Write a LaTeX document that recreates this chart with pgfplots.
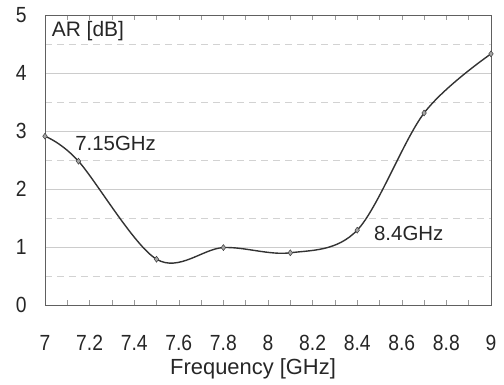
\documentclass[border=0pt]{standalone}
\usepackage{fontspec}
\setmainfont{Liberation Sans}
\newfontfamily\tickfont[FakeStretch=0.88]{Liberation Sans}
\usepackage{pgfplots}
\pgfplotsset{compat=1.18}
\begin{document}
\begin{tikzpicture}
\path[use as bounding box] (-45bp,-80bp) rectangle (459bp,305bp);
\begin{axis}[
  at={(0,0)}, anchor=south west,
  scale only axis, width=446bp, height=290bp,
  xmin=7, xmax=9, ymin=0, ymax=5,
  clip=false,
  /pgf/number format/assume math mode=true,
  axis line style={draw=gray!75!black, line width=0.8bp},
  xtick={7,7.2,...,9.01},
  xticklabels={7,7.2,7.4,7.6,7.8,8,8.2,8.4,8.6,8.8,9},
  minor x tick num=1,
  ytick={0,1,2,3,4,5},
  yticklabels={0,1,2,3,4,5},
  minor ytick={0.5,1.5,2.5,3.5,4.5},
  ymajorgrids, yminorgrids,
  major grid style={draw=gray!40, line width=0.6bp},
  minor grid style={draw=gray!35, dash pattern=on 7bp off 5bp, line width=0.6bp},
  tick align=inside,
  major tick length=5bp, minor tick length=5bp,
  xtick style={draw=gray!80, line width=0.6bp},
  ytick style={draw=none},
  minor y tick style={draw=none},
  xticklabel style={font=\tickfont\fontsize{22}{26}\selectfont, yshift=-27bp, text=black!85},
  yticklabel style={font=\tickfont\fontsize{22}{26}\selectfont, xshift=-15bp, text=black!85},
]
\addplot[draw=black!80, line width=1.4bp, smooth, tension=0.55,
  mark=diamond*, mark size=3bp, mark options={fill=gray!70, draw=gray!50!black, line width=0.5bp}]
  coordinates {(7.0,2.91) (7.15,2.48) (7.5,0.79) (7.8,0.99) (8.1,0.9) (8.4,1.29) (8.7,3.31) (9.0,4.33)};
\node[anchor=west, inner sep=0pt, font=\fontsize{21}{24}\selectfont, text=black!85] at (axis cs:7.03,4.73) {AR [dB]};
\node[anchor=west, inner sep=0pt, font=\fontsize{20.5}{24}\selectfont, text=black!85] at (axis cs:7.135,2.78) {7.15GHz};
\node[anchor=west, inner sep=0pt, font=\fontsize{20.5}{24}\selectfont, text=black!85] at (axis cs:8.475,1.24) {8.4GHz};
\node[inner sep=0pt, font=\fontsize{22}{26}\selectfont, text=black!85] at (axis cs:7.933,-1.1) {Frequency [GHz]};
\end{axis}
\end{tikzpicture}
\end{document}
